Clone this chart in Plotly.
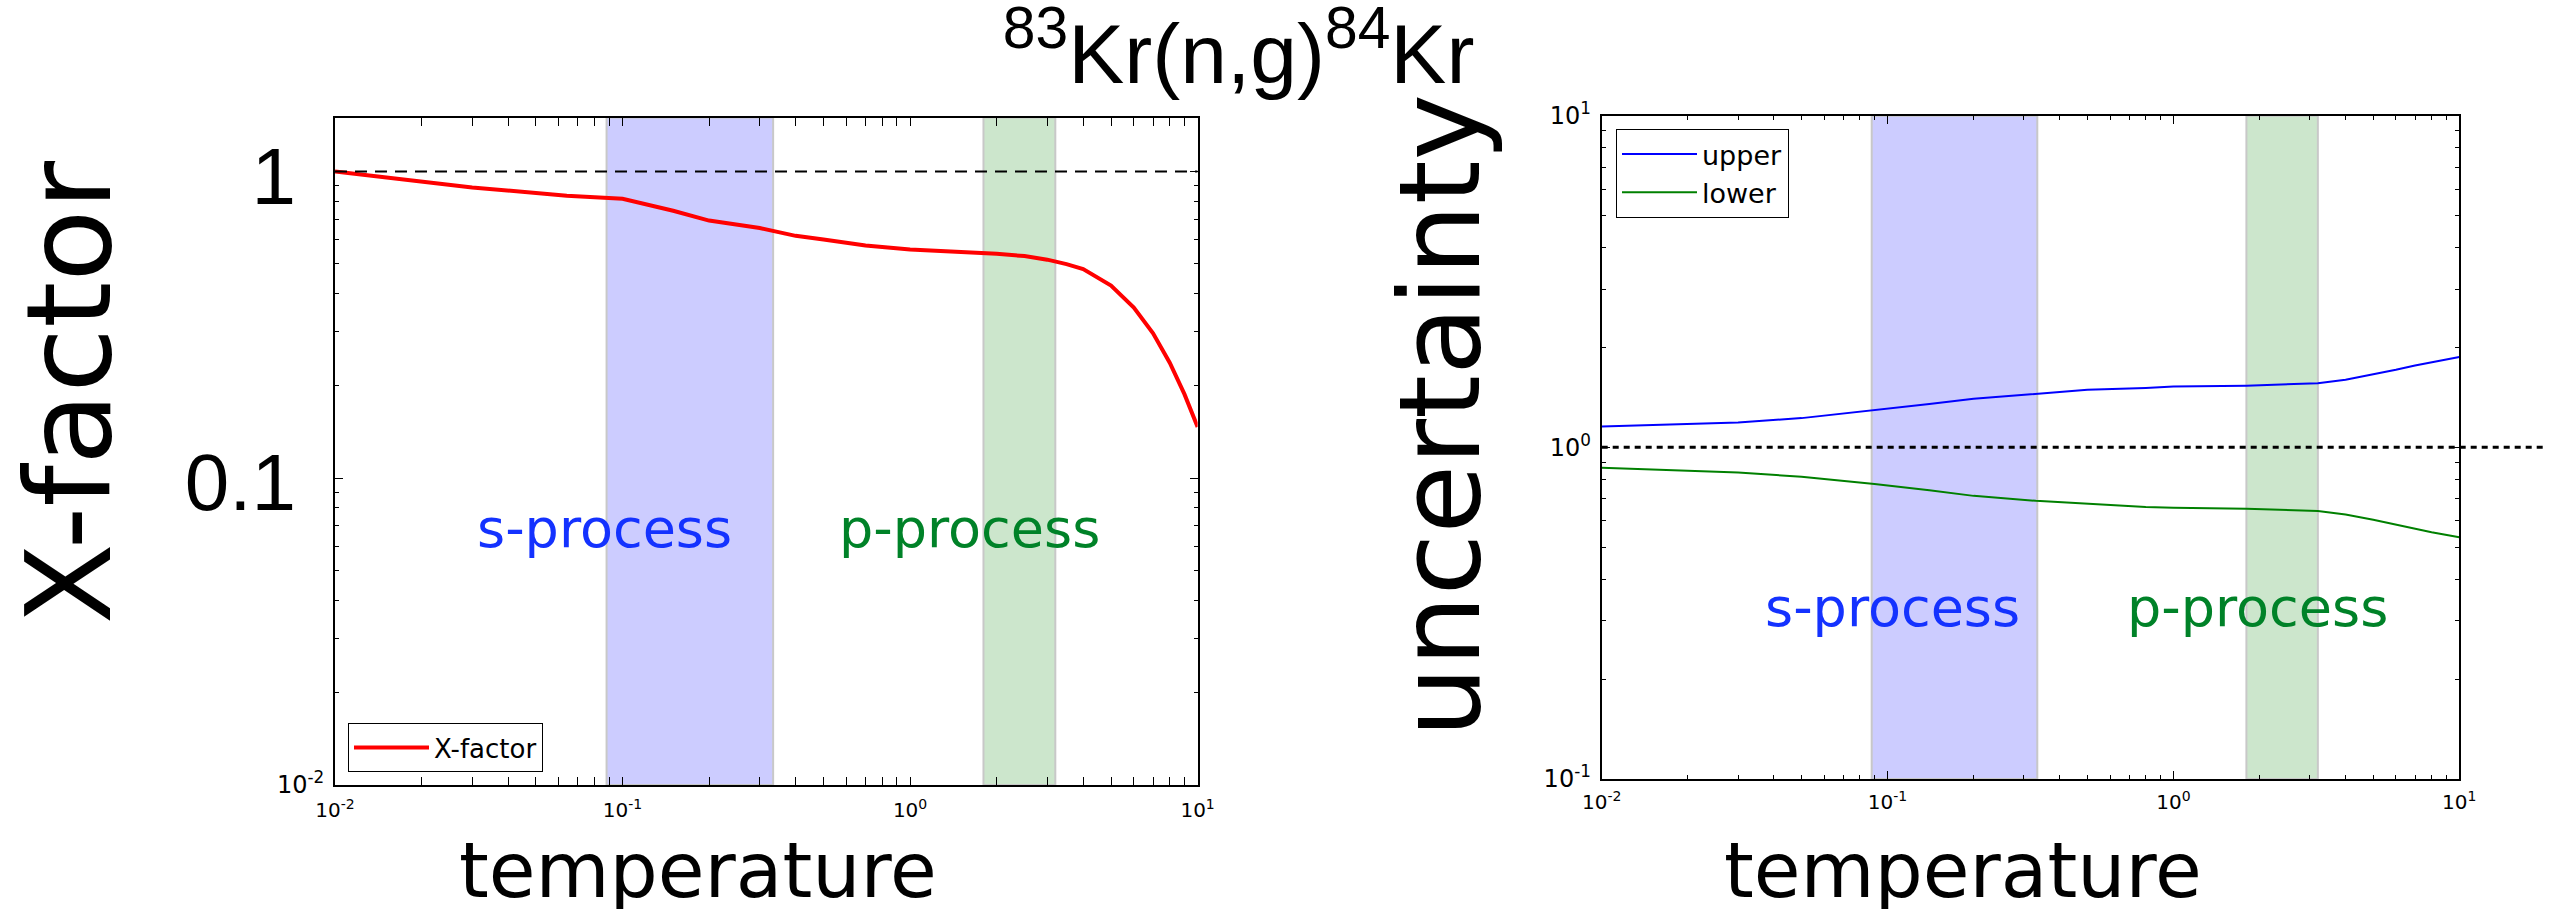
import numpy as np
import plotly.graph_objects as go

W, H = 2555, 909

# ---------------- data ----------------
temp_left = [0.01, 0.03, 0.064, 0.1, 0.15, 0.2, 0.3, 0.4, 0.5, 0.7, 1.0, 1.5,
             2.0, 2.5, 3.0, 3.5, 4.0, 5.0, 6.0, 7.0, 8.0, 9.0, 10.0]
xfactor = [1.0, 0.887, 0.834, 0.815, 0.745, 0.692, 0.654, 0.617, 0.600, 0.574,
           0.557, 0.548, 0.539, 0.530, 0.516, 0.499, 0.481, 0.425, 0.360, 0.297,
           0.238, 0.188, 0.147]

temp_right = [0.01, 0.03, 0.05, 0.09, 0.14, 0.2, 0.33, 0.5, 0.8, 1.0, 1.8, 3.2,
              4.0, 5.0, 6.0, 7.0, 8.0, 10.0]
upper = [1.155, 1.188, 1.225, 1.293, 1.352, 1.401, 1.450, 1.492, 1.510, 1.525,
         1.535, 1.560, 1.598, 1.656, 1.713, 1.765, 1.804, 1.873]
lower = [0.868, 0.840, 0.815, 0.776, 0.742, 0.714, 0.690, 0.676, 0.661, 0.657,
         0.653, 0.643, 0.627, 0.605, 0.585, 0.567, 0.555, 0.536]

s_band = [0.088, 0.334]
p_band = [1.8, 3.2]

x_tickvals = [0.01, 0.1, 1, 10]
x_ticktext = ["10<sup>-2</sup>", "10<sup>-1</sup>", "10<sup>0</sup>", "10<sup>1</sup>"]
left_small_ticks = [0.01, 0.1, 1]
left_small_text = ["10<sup>-2</sup>", " ", " "]
left_big_ticks = [0.1, 1]
left_big_text = ["0.1", "1"]
right_tickvals = [0.1, 1, 10]
right_ticktext = ["10<sup>-1</sup>", "10<sup>0</sup>", "10<sup>1</sup>"]

# label positions (data coords)
s_label_left = (0.0864, 0.0684)
p_label_left = (1.615, 0.0684)
s_label_right = (0.104, 0.33)
p_label_right = (1.97, 0.33)

# ---------------- layout geometry ----------------
LX = [335 / W, 1197.6 / W]
LY = [1 - 785 / H, 1 - 117.5 / H]
RX = [1601.7 / W, 2459.3 / W]
RY = [1 - 779 / H, 1 - 115.7 / H]

x_range = [-2, 1]
yl_range = [-2, np.log10(1.5)]
yr_range = [-1, 1]

minor_x = [m * 10.0 ** k for k in range(-2, 1) for m in range(2, 10)]
minor_yl = [m * 10.0 ** k for k in range(-2, 1) for m in range(2, 10) if m * 10.0 ** k < 1.5]
minor_yr = [m * 10.0 ** k for k in range(-1, 1) for m in range(2, 10)]

BLUE_FILL = "rgba(0,0,255,0.2)"
GREEN_FILL = "rgba(0,128,0,0.2)"
EDGE = "rgb(200,200,200)"
FONT = "DejaVu Sans"

fig = go.Figure()


def band(xr, yr, fill, xa, ya):
    fig.add_trace(go.Scatter(
        x=[xr[0], xr[1], xr[1], xr[0], xr[0]],
        y=[yr[0], yr[0], yr[1], yr[1], yr[0]],
        fill="toself", fillcolor=fill, mode="lines",
        line=dict(color=EDGE, width=2), showlegend=False, hoverinfo="skip",
        xaxis=xa, yaxis=ya))


yl_lims = [10 ** yl_range[0], 10 ** yl_range[1]]
yr_lims = [10 ** yr_range[0], 10 ** yr_range[1]]

band(s_band, yl_lims, BLUE_FILL, "x", "y")
band(p_band, yl_lims, GREEN_FILL, "x", "y")
band(s_band, yr_lims, BLUE_FILL, "x2", "y2")
band(p_band, yr_lims, GREEN_FILL, "x2", "y2")

# dashed reference at 1 (left) -- attached to the overlay axis carrying big labels
fig.add_trace(go.Scatter(x=[0.01, 10], y=[1, 1], mode="lines",
                         line=dict(color="black", width=2, dash="12px,8px"),
                         showlegend=False, hoverinfo="skip", xaxis="x", yaxis="y3"))

fig.add_trace(go.Scatter(x=temp_left, y=xfactor, mode="lines", name="X-factor",
                         line=dict(color="red", width=4), xaxis="x", yaxis="y",
                         legend="legend"))
fig.add_trace(go.Scatter(x=temp_right, y=upper, mode="lines", name="upper",
                         line=dict(color="blue", width=2), xaxis="x2", yaxis="y2",
                         legend="legend2"))
fig.add_trace(go.Scatter(x=temp_right, y=lower, mode="lines", name="lower",
                         line=dict(color="green", width=2), xaxis="x2", yaxis="y2",
                         legend="legend2"))


def xpaper(v, rng, dom):
    return dom[0] + (np.log10(v) - rng[0]) / (rng[1] - rng[0]) * (dom[1] - dom[0])


def ydom(v, rng):
    return (np.log10(v) - rng[0]) / (rng[1] - rng[0])


# dotted reference at 1 (right), drawn past the axis like the original
fig.add_shape(type="line", xref="paper", yref="y2 domain",
              x0=xpaper(0.01, x_range, RX), x1=xpaper(20, x_range, RX),
              y0=ydom(1, yr_range), y1=ydom(1, yr_range),
              line=dict(color="black", width=3, dash="6px,5px"), layer="above")

common_axis = dict(type="log", showgrid=False, zeroline=False, showline=True,
                   linecolor="black", linewidth=2, mirror="allticks",
                   ticks="inside", ticklen=8, tickwidth=1, tickcolor="black",
                   automargin=False)

fig.update_layout(
    width=W, height=H, margin=dict(l=0, r=0, t=0, b=0, autoexpand=False),
    paper_bgcolor="white", plot_bgcolor="white",
    font=dict(family=FONT, color="black"),
    xaxis=dict(**common_axis, domain=LX, anchor="y", range=x_range,
               tickmode="array", tickvals=x_tickvals, ticktext=x_ticktext,
               tickfont=dict(size=20), ticklabelstandoff=6,
               minor=dict(tickmode="array", tickvals=minor_x, ticks="inside",
                          ticklen=4, tickwidth=1, tickcolor="black")),
    yaxis=dict(**common_axis, domain=LY, anchor="x", range=yl_range,
               tickmode="array", tickvals=left_small_ticks, ticktext=left_small_text,
               tickfont=dict(size=24), ticklabelstandoff=4,
               minor=dict(tickmode="array", tickvals=minor_yl, ticks="inside",
                          ticklen=4, tickwidth=1, tickcolor="black")),
    yaxis3=dict(type="log", overlaying="y", anchor="x", side="left", range=yl_range,
                showgrid=False, zeroline=False, showline=False, ticks="",
                automargin=False,
                tickmode="array", tickvals=left_big_ticks, ticktext=left_big_text,
                tickfont=dict(size=80, family="Liberation Sans"),
                ticklabelstandoff=38, ticklabelshift=4),
    xaxis2=dict(**common_axis, domain=RX, anchor="y2", range=x_range,
                tickmode="array", tickvals=x_tickvals, ticktext=x_ticktext,
                tickfont=dict(size=20), ticklabelstandoff=4,
                minor=dict(tickmode="array", tickvals=minor_x, ticks="inside",
                           ticklen=4, tickwidth=1, tickcolor="black")),
    yaxis2=dict(**common_axis, domain=RY, anchor="x2", range=yr_range,
                tickmode="array", tickvals=right_tickvals, ticktext=right_ticktext,
                tickfont=dict(size=24), ticklabelstandoff=4,
                minor=dict(tickmode="array", tickvals=minor_yr, ticks="inside",
                           ticklen=4, tickwidth=1, tickcolor="black")),
    legend=dict(x=348 / W, y=1 - 772 / H, xanchor="left", yanchor="bottom",
                bordercolor="black", borderwidth=1, bgcolor="white", itemwidth=75,
                font=dict(size=26, family=FONT)),
    legend2=dict(x=1616 / W, y=1 - 129 / H, xanchor="left", yanchor="top",
                 bordercolor="black", borderwidth=1, bgcolor="white", itemwidth=75,
                 font=dict(size=27, family=FONT)),
    title=dict(text="<sup>83</sup>Kr(n,g)<sup>84</sup>Kr", x=1238.6 / W, xanchor="center",
               y=1 - 54 / H, yanchor="middle", yref="container",
               font=dict(size=84, family="Liberation Sans", color="black")),
    showlegend=True,
)

center = dict(showarrow=False, xanchor="center", yanchor="middle")
annotations = [
    dict(text="X-factor", textangle=-90, xref="paper", yref="paper",
         x=69.2 / W, y=1 - 392 / H, font=dict(size=118, family=FONT), **center),
    dict(text="uncertainty", textangle=-90, xref="paper", yref="paper",
         x=1440.4 / W, y=1 - 416 / H, font=dict(size=112, family=FONT), **center),
    dict(text="temperature", xref="paper", yref="paper", x=698 / W, y=1 - 870 / H,
         font=dict(size=76, family=FONT), **center),
    dict(text="temperature", xref="paper", yref="paper", x=1963 / W, y=1 - 870 / H,
         font=dict(size=76, family=FONT), **center),
    dict(text="s-process", xref="x", yref="y", x=np.log10(s_label_left[0]),
         y=np.log10(s_label_left[1]),
         font=dict(size=54, family=FONT, color="rgb(20,50,255)"), **center),
    dict(text="p-process", xref="x", yref="y", x=np.log10(p_label_left[0]),
         y=np.log10(p_label_left[1]),
         font=dict(size=54, family=FONT, color="rgb(0,130,40)"), **center),
    dict(text="s-process", xref="x2", yref="y2", x=np.log10(s_label_right[0]),
         y=np.log10(s_label_right[1]),
         font=dict(size=54, family=FONT, color="rgb(20,50,255)"), **center),
    dict(text="p-process", xref="x2", yref="y2", x=np.log10(p_label_right[0]),
         y=np.log10(p_label_right[1]),
         font=dict(size=54, family=FONT, color="rgb(0,130,40)"), **center),
]
fig.update_layout(annotations=annotations)

fig.write_html("out.html")
